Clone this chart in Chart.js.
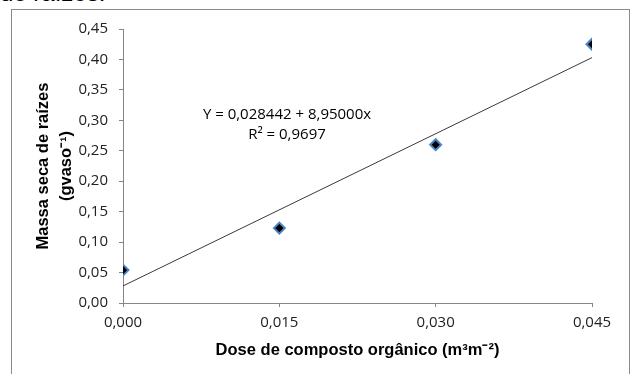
<!DOCTYPE html>
<html>
<head>
<meta charset="utf-8">
<title>Massa seca de raízes</title>
<script src="https://cdn.jsdelivr.net/npm/chart.js@4.4.0/dist/chart.umd.min.js"></script>
<style>
  html, body { margin: 0; padding: 0; background: #fff; }
  body { width: 631px; height: 374px; overflow: hidden; position: relative; }
  #caption { position: absolute; left: 0; top: -19px; font: 24px "Liberation Sans", Arial, sans-serif; line-height: 24px; color: #000; white-space: nowrap; }
  #frame { position: absolute; left: 11px; top: 9px; width: 619px; height: 420px; border: 1px solid #8a8a8a; box-sizing: border-box; background: #fff; }
  #myChart { position: absolute; left: 0; top: 0; }
</style>
</head>
<body>
<div id="caption">de raízes.</div>
<div id="frame"></div>
<canvas id="myChart" width="631" height="374"></canvas>
<script>
// data
const doses = [0, 0.015, 0.030, 0.045];
const massaSeca = [0.054, 0.123, 0.260, 0.425];
// fitted line as drawn (end points)
const trendX = [0, 0.045];
const trendY = [0.028, 0.403];
const equationLines = ['Y = 0,028442 + 8,95000x', 'R² = 0,9697'];

const xTitle = 'Dose de composto orgânico (m³m⁻²)';
const yTitle = ['Massa seca de raízes', '(gvaso⁻¹)'];

const axisColor = '#868686';
const tickFont = { family: '"Open Sans", sans-serif', size: 15 };
const titleFont = { family: '"Liberation Sans", Arial, sans-serif', size: 16.5, weight: 'bold', lineHeight: 1.45 };

// equation text drawn over the plot
const equationPlugin = {
  id: 'equation',
  afterDatasetsDraw(chart) {
    const ctx = chart.ctx;
    ctx.save();
    ctx.font = '15px "Open Sans", sans-serif';
    ctx.fillStyle = '#000';
    ctx.textAlign = 'center';
    ctx.textBaseline = 'middle';
    ctx.fillText(equationLines[0], 287, 115);
    ctx.fillText(equationLines[1], 287, 135);
    ctx.restore();
  }
};

const ctx = document.getElementById('myChart');
const myChart = new Chart(ctx, {
  type: 'scatter',
  data: {
    datasets: [
      {
        type: 'line',
        data: trendX.map((x, i) => ({ x: x, y: trendY[i] })),
        borderColor: '#3a3a3a',
        borderWidth: 1,
        pointRadius: 0,
        fill: false
      },
      {
        data: doses.map((x, i) => ({ x: x, y: massaSeca[i] })),
        pointStyle: 'rectRot',
        pointRadius: 5.5,
        backgroundColor: '#000',
        borderColor: '#4a86c8',
        borderWidth: 2
      }
    ]
  },
  options: {
    responsive: false,
    animation: false,
    layout: { padding: { left: 0, top: 29, right: 39, bottom: 0 } },
    plugins: { legend: { display: false }, tooltip: { enabled: false } },
    scales: {
      x: {
        type: 'linear',
        min: 0,
        max: 0.045,
        afterFit(scale) { scale.height = 71; },
        border: { color: axisColor, width: 1 },
        grid: { drawOnChartArea: false, drawTicks: true, tickLength: 4, color: axisColor },
        ticks: {
          stepSize: 0.015,
          padding: 7,
          color: '#222',
          font: tickFont,
          callback: v => v.toFixed(3).replace('.', ',')
        },
        title: { display: true, text: xTitle, color: '#000', font: titleFont, padding: { top: 0, bottom: 12 } }
      },
      y: {
        type: 'linear',
        min: 0,
        max: 0.45,
        afterFit(scale) { scale.width = 123; },
        border: { color: axisColor, width: 1 },
        grid: { drawOnChartArea: false, drawTicks: true, tickLength: 4, color: axisColor },
        ticks: {
          stepSize: 0.05,
          padding: 11,
          color: '#222',
          font: tickFont,
          callback: v => v.toFixed(2).replace('.', ',')
        },
        title: { display: true, text: yTitle, color: '#000', font: titleFont, padding: { top: 31, bottom: 0 } }
      }
    }
  },
  plugins: [equationPlugin]
});
</script>
</body>
</html>
